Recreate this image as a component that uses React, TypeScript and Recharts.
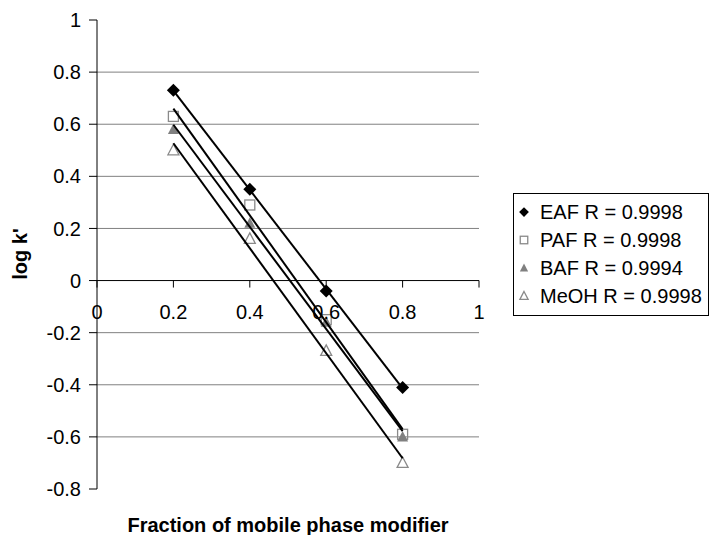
import { ComposedChart, Scatter, XAxis, YAxis, ReferenceLine, Legend } from 'recharts';

const FRACTIONS = [0.2, 0.4, 0.6, 0.8];
const EAF = [0.73, 0.35, -0.04, -0.41];
const PAF = [0.63, 0.29, -0.15, -0.59];
const BAF = [0.58, 0.22, -0.16, -0.6];
const MEOH = [0.5, 0.16, -0.27, -0.7];
const SERIES_NAMES = ['EAF R = 0.9998', 'PAF R = 0.9998', 'BAF R = 0.9994', 'MeOH R = 0.9998'];
const X_TICKS = [0, 0.2, 0.4, 0.6, 0.8, 1];
const Y_TICKS = [-0.8, -0.6, -0.4, -0.2, 0, 0.2, 0.4, 0.6, 0.8, 1];
const GRID_VALUES = [-0.6, -0.4, -0.2, 0.2, 0.4, 0.6, 0.8];

const FONT = '"Liberation Sans", Arial, sans-serif';
const W = 712;
const H = 535;
const PLOT_TOP = 20;
const PLOT_H = 469;
const Y_MIN = -0.8;
const Y_MAX = 1;
const ZERO_Y = PLOT_TOP + (PLOT_H * Y_MAX) / (Y_MAX - Y_MIN);

type Kind = 'diamond' | 'square' | 'triFilled' | 'tri';
const KINDS: Kind[] = ['diamond', 'square', 'triFilled', 'tri'];
const ALL = [EAF, PAF, BAF, MEOH];

const toPoints = (ys: number[]) => FRACTIONS.map((x, i) => ({ x, y: ys[i] }));

// least squares trendline between first and last fraction
const trend = (ys: number[]) => {
    const n = FRACTIONS.length;
    const mx = FRACTIONS.reduce((a, b) => a + b, 0) / n;
    const my = ys.reduce((a, b) => a + b, 0) / n;
    let sxy = 0;
    let sxx = 0;
    FRACTIONS.forEach((x, i) => {
        sxy += (x - mx) * (ys[i] - my);
        sxx += (x - mx) * (x - mx);
    });
    const slope = sxy / sxx;
    const b = my - slope * mx;
    const x0 = FRACTIONS[0];
    const x1 = FRACTIONS[n - 1];
    return [{ x: x0, y: b + slope * x0 }, { x: x1, y: b + slope * x1 }];
};

const Marker = ({ kind, cx, cy, s = 1 }: { kind: Kind; cx: number; cy: number; s?: number }) => {
    if (kind === 'diamond') {
        const r = 6.5 * s;
        return <polygon points={`${cx},${cy - r} ${cx + r},${cy} ${cx},${cy + r} ${cx - r},${cy}`} fill="#000" />;
    }
    if (kind === 'square') {
        const h = 5 * s;
        return <rect x={cx - h} y={cy - h} width={2 * h} height={2 * h} fill="none" stroke="#8a8a8a" strokeWidth={1.3} />;
    }
    const w = 5.5 * s;
    const pts = `${cx},${cy - 6 * s} ${cx + w},${cy + 4.5 * s} ${cx - w},${cy + 4.5 * s}`;
    if (kind === 'triFilled') return <polygon points={pts} fill="#808080" />;
    return <polygon points={pts} fill="none" stroke="#8a8a8a" strokeWidth={1.3} />;
};

const XTick = (props: any) => {
    const { x, payload } = props;
    return (
        <g>
            <line x1={x} x2={x} y1={ZERO_Y} y2={ZERO_Y + 7} stroke="#000" />
            <text x={x} y={ZERO_Y + 38} textAnchor="middle" fontSize={20} fontFamily={FONT} fill="#000">
                {payload.value}
            </text>
        </g>
    );
};

const LegendBox = () => (
    <div
        style={{
            border: '1px solid #000',
            background: '#fff',
            padding: '4px 0 5px 2px',
            fontFamily: FONT,
            fontSize: 20,
            color: '#000',
            whiteSpace: 'nowrap',
            boxSizing: 'border-box',
            width: 196,
        }}
    >
        {SERIES_NAMES.map((name, i) => (
            <div key={name} style={{ display: 'flex', alignItems: 'center', height: 28 }}>
                <svg width={16} height={16} style={{ marginRight: 8 }}>
                    <Marker kind={KINDS[i]} cx={8} cy={8} s={0.75} />
                </svg>
                <span>{name}</span>
            </div>
        ))}
    </div>
);

export default function App() {
    return (
        <div style={{ position: 'absolute', left: 0, top: 0, width: W, height: H, background: '#fff' }}>
            <ComposedChart width={W} height={H} margin={{ top: PLOT_TOP, right: 233, bottom: 0, left: 0 }}>
                <XAxis
                    type="number"
                    dataKey="x"
                    domain={[0, 1]}
                    ticks={X_TICKS}
                    axisLine={false}
                    tickLine={false}
                    height={46}
                    tick={<XTick />}
                    interval={0}
                    label={{
                        content: (p: any) => (
                            <text
                                x={p.viewBox.x + p.viewBox.width / 2}
                                y={p.viewBox.y + p.viewBox.height - 3}
                                textAnchor="middle"
                                fontSize={20}
                                fontWeight="bold"
                                fontFamily={FONT}
                                fill="#000"
                            >
                                Fraction of mobile phase modifier
                            </text>
                        ),
                    }}
                />
                <YAxis
                    type="number"
                    dataKey="y"
                    domain={[Y_MIN, Y_MAX]}
                    ticks={Y_TICKS}
                    width={97}
                    interval={0}
                    tickSize={8}
                    tickMargin={8}
                    axisLine={{ stroke: '#000' }}
                    tickLine={{ stroke: '#000' }}
                    tick={{ fontSize: 20, fontFamily: FONT, fill: '#000' }}
                    label={{
                        content: () => (
                            <text
                                x={20}
                                y={254}
                                transform="rotate(-90 20 254)"
                                textAnchor="middle"
                                dominantBaseline="central"
                                fontSize={20}
                                fontWeight="bold"
                                fontFamily={FONT}
                                fill="#000"
                            >
                                log k'
                            </text>
                        ),
                    }}
                />
                {GRID_VALUES.map((v) => (
                    <ReferenceLine key={v} y={v} stroke="#808080" strokeWidth={1} />
                ))}
                <ReferenceLine y={0} stroke="#000" strokeWidth={1} />
                {ALL.map((ys, i) => (
                    <Scatter
                        key={SERIES_NAMES[i]}
                        name={SERIES_NAMES[i]}
                        data={toPoints(ys)}
                        isAnimationActive={false}
                        shape={(p: any) => <Marker kind={KINDS[i]} cx={p.cx} cy={p.cy} />}
                    />
                ))}
                {ALL.map((ys, i) => (
                    <Scatter
                        key={'trend' + i}
                        data={trend(ys)}
                        line={{ stroke: '#000', strokeWidth: 2 }}
                        shape={() => <g />}
                        legendType="none"
                        isAnimationActive={false}
                    />
                ))}
                <Legend
                    layout="vertical"
                    align="center"
                    verticalAlign="middle"
                    content={() => <LegendBox />}
                    wrapperStyle={{ position: 'absolute', left: 513, top: 193, width: 196 }}
                />
            </ComposedChart>
        </div>
    );
}
